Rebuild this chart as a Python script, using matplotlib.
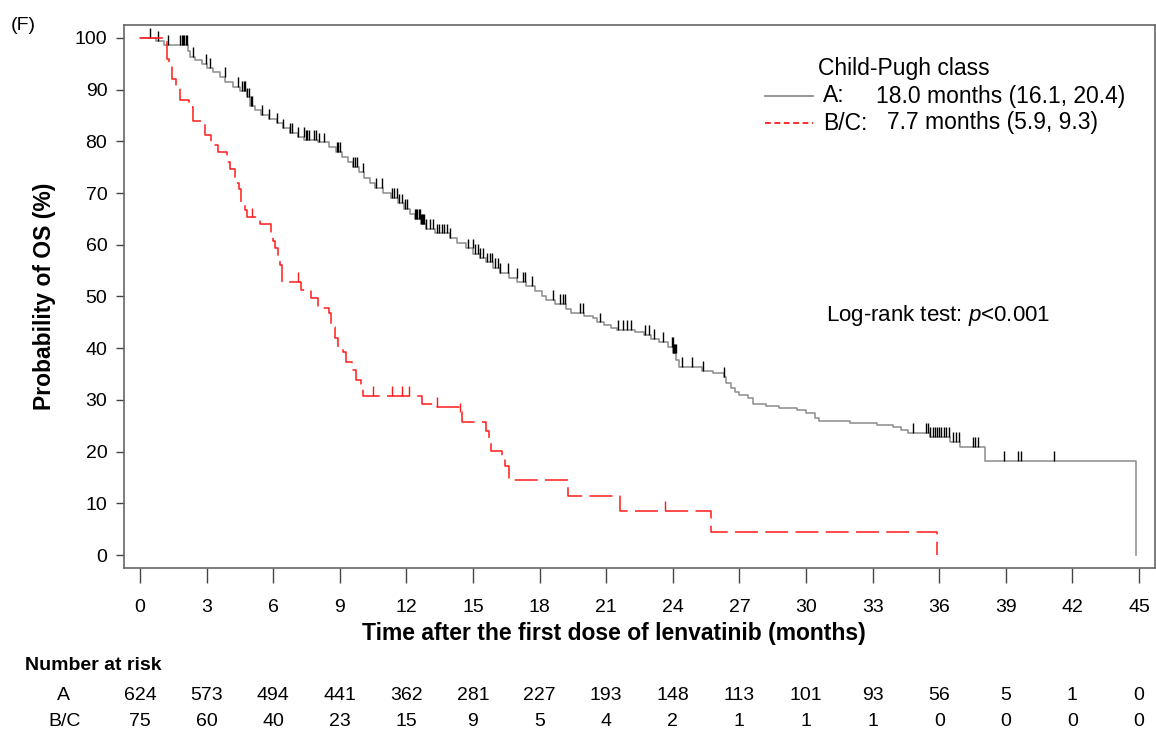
import matplotlib
matplotlib.use("Agg")

import numpy as np
import matplotlib.pyplot as plt
from matplotlib.lines import Line2D
from matplotlib.transforms import blended_transform_factory

plt.rcParams["font.family"] = ["Liberation Sans", "DejaVu Sans"]
plt.rcParams["mathtext.fontset"] = "custom"
plt.rcParams["mathtext.rm"] = "Liberation Sans"
plt.rcParams["mathtext.it"] = "Liberation Sans:italic"

# ============ data ============
# Child-Pugh A: step times (months) and survival (%) after each step
a_time = [0, 0.7, 1.1, 2.15, 2.25, 2.5, 2.8, 3.0, 3.3, 3.6, 3.85, 4.2, 4.5, 4.8, 4.95,
          5.2, 5.45, 5.8, 6.15, 6.45, 6.75, 7.1, 7.4, 8.0, 8.5, 8.85, 9.1, 9.35, 9.6,
          9.85, 10.1, 10.35, 10.6, 10.95, 11.3, 11.6, 11.9, 12.15, 12.4, 12.65, 12.9,
          13.3, 13.95, 14.3, 14.7, 15.0, 15.3, 15.6, 15.9, 16.2, 16.6, 17.0, 17.4, 17.8,
          18.1, 18.3, 18.7, 19.2, 19.4, 20.0, 20.4, 20.6, 20.9, 21.2, 21.5, 22.3, 22.7,
          23.0, 23.4, 23.8, 24.0, 24.15, 24.3, 25.3, 25.8, 26.3, 26.4, 26.6, 26.8, 27.0,
          27.4, 27.6, 28.2, 28.8, 29.6, 30.0, 30.4, 30.6, 32.0, 33.2, 33.9, 34.3, 34.6,
          35.6, 36.5, 36.94, 38.06, 44.87]
a_surv = [100, 99.4, 98.6, 97.4, 96.4, 95.8, 95.0, 94.2, 93.4, 92.4, 91.5, 90.6, 89.8, 88.5, 86.9,
          86.0, 85.1, 84.3, 83.5, 82.5, 81.6, 80.9, 80.2, 79.8, 79.0, 78.0, 77.0, 76.0, 75.0,
          74.0, 72.9, 71.9, 71.0, 70.0, 69.0, 68.0, 67.0, 66.0, 65.0, 64.0, 63.0,
          62.2, 61.3, 60.3, 59.3, 58.3, 57.5, 56.6, 55.6, 54.6, 53.6, 52.8, 52.0, 51.0,
          50.0, 49.3, 48.6, 47.6, 46.8, 46.3, 45.8, 45.0, 44.5, 44.0, 43.5, 43.1, 42.5,
          41.8, 41.2, 40.2, 39.0, 37.8, 36.4, 35.6, 35.2, 34.4, 33.2, 32.4, 31.6, 30.9,
          30.3, 29.3, 28.8, 28.4, 28.1, 27.4, 26.5, 25.9, 25.6, 25.2, 24.7, 24.2, 23.6,
          22.8, 21.9, 20.9, 18.2, 0]
a_cens = [0.45, 0.83, 1.28, 1.8, 1.9, 1.95, 2.0, 2.07, 2.13, 2.4, 2.97, 3.15, 3.83, 4.43,
          4.58, 4.68, 4.75, 4.8, 4.9, 4.98, 5.03, 5.48, 5.83, 6.16, 6.46, 6.76, 6.83, 7.13,
          7.39, 7.46, 7.54, 7.61, 7.84, 7.93, 8.05, 8.29, 8.86, 8.93, 9.0, 9.6, 9.68, 9.76,
          10.06, 10.63, 10.89, 11.35, 11.44, 11.56, 11.68, 11.79, 11.94, 12.01, 12.4, 12.45,
          12.5, 12.55, 12.6, 12.65, 12.7, 12.75, 12.8, 12.9, 13.06, 13.2, 13.36, 13.45,
          13.59, 13.7, 13.81, 13.96, 14.79, 14.98, 15.09, 15.24, 15.32, 15.47, 15.62, 15.77,
          15.84, 15.99, 16.14, 16.22, 16.59, 16.97, 17.27, 17.34, 17.64, 18.6, 18.92, 19.04,
          19.16, 19.82, 19.97, 20.72, 21.55, 21.77, 21.92, 22.1, 22.75, 22.94, 23.15, 23.57,
          23.95, 23.99, 24.03, 24.07, 24.11, 24.14, 24.4, 24.85, 25.37, 26.3, 34.8, 35.4,
          35.5, 35.6, 35.7, 35.8, 35.9, 36.0, 36.1, 36.2, 36.3, 36.45, 36.6, 36.75, 36.9,
          37.5, 37.6, 37.75, 38.9, 39.56, 39.7, 41.17]

# Child-Pugh B/C
b_time = [0, 1.2, 1.3, 1.45, 1.6, 1.8, 2.2, 2.4, 2.95, 3.2, 3.5, 3.9, 4.05, 4.3, 4.45,
          4.55, 4.75, 4.8, 5.4, 5.9, 6.0, 6.1, 6.2, 6.3, 6.4, 7.25, 7.7, 8.0, 8.5, 8.6,
          8.8, 8.9, 9.15, 9.3, 9.55, 9.75, 9.95, 10.05, 12.7, 13.3, 14.35, 14.5, 15.6,
          15.7, 15.8, 16.3, 16.45, 16.6, 19.3, 21.6, 25.7, 35.9]
b_surv = [100, 96.0, 94.7, 92.0, 90.7, 88.0, 86.7, 84.0, 81.3, 79.3, 78.0, 76.0, 74.7, 72.0, 70.7,
          68.0, 66.7, 65.3, 64.0, 62.0, 60.7, 59.3, 57.7, 56.0, 52.8, 51.2, 49.7, 47.8, 46.8, 44.1,
          42.0, 40.0, 39.2, 37.3, 35.8, 33.8, 32.8, 30.8, 29.3, 28.6, 27.6, 25.8, 24.0,
          21.8, 20.2, 18.7, 17.3, 14.5, 11.4, 8.6, 4.4, 0.0]
b_cens = [5.03, 7.13, 10.5, 11.35, 11.8, 12.1, 13.4, 14.4, 23.65]

risk_times = [0, 3, 6, 9, 12, 15, 18, 21, 24, 27, 30, 33, 36, 39, 42, 45]
risk_a = [624, 573, 494, 441, 362, 281, 227, 193, 148, 113, 101, 93, 56, 5, 1, 0]
risk_bc = [75, 60, 40, 23, 15, 9, 5, 4, 2, 1, 1, 1, 0, 0, 0, 0]

# ============ plot ============
W, H = 1156, 734
fig = plt.figure(figsize=(W / 100, H / 100), dpi=100)
ax = fig.add_axes([124 / W, 1 - 568 / H, (1155 - 124) / W, (568 - 25) / H])


def px(x, y):
    return x / W, 1 - y / H


def surv_at(times, surv, t):
    idx = np.searchsorted(times, t, side="right") - 1
    return np.asarray(surv)[idx]


col_a = "#8c8c8c"
col_b = "#ff1a1a"
tick_h = 1.9

ax.step(a_time, a_surv, where="post", color=col_a, lw=1.1)
ya = surv_at(a_time, a_surv, a_cens)
ax.vlines(a_cens, ya, ya + tick_h, color="black", lw=1.0)

ax.step(b_time, b_surv, where="post", color=col_b, lw=1.1, dashes=(15, 4.8))
yb = surv_at(b_time, b_surv, b_cens)
ax.vlines(b_cens, yb, yb + tick_h, color=col_b, lw=1.0)

ax.set_xlim(-0.72, 45.72)
ax.set_ylim(-2.5, 102.5)
ax.set_xticks(risk_times)
ax.set_yticks(np.arange(0, 101, 10))

for s in ax.spines.values():
    s.set_color("#666666")
    s.set_linewidth(1.2)
ax.tick_params(axis="x", length=11, width=1, color="#444444", pad=11, labelsize=14)
ax.tick_params(axis="y", length=6, width=1, color="#444444", pad=6, labelsize=14)

ax.set_xlabel("Time after the first dose of lenvatinib (months)", fontsize=16.5,
              fontweight="bold")
ax.xaxis.set_label_coords(0.475, -0.10)
ax.set_ylabel("Probability of OS (%)", fontsize=16.5, fontweight="bold")
ax.yaxis.set_label_coords(-0.066, 0.5)

ax.text(30.9, 46.4, "Log-rank test: $p$<0.001", fontsize=16, va="center", ha="left")

# legend drawn by hand to sit like the original
fig.text(*px(818, 68), "Child-Pugh class", fontsize=16.5, va="center", ha="left")
fig.add_artist(Line2D([765 / W, 813 / W], [1 - 96 / H] * 2, color=col_a, lw=1.3))
fig.add_artist(Line2D([765 / W, 813 / W], [1 - 123 / H] * 2, color=col_b, lw=1.3,
                      dashes=(3.2, 2.0)))
fig.text(*px(823, 96), "A:", fontsize=16.5, va="center", ha="left")
fig.text(*px(823, 123), "B/C:", fontsize=16.5, va="center", ha="left")
fig.text(*px(876, 96), "18.0 months (16.1, 20.4)", fontsize=16.5, va="center", ha="left")
fig.text(*px(887, 123), "7.7 months (5.9, 9.3)", fontsize=16.5, va="center", ha="left")

fig.text(*px(11, 25), "(F)", fontsize=14, va="center", ha="left")

# number at risk table
tr = blended_transform_factory(ax.transData, fig.transFigure)
fig.text(*px(25, 665), "Number at risk", fontsize=14, fontweight="bold",
         va="center", ha="left")
fig.text(*px(63, 695), "A", fontsize=14, va="center", ha="center")
fig.text(*px(65, 722), "B/C", fontsize=14, va="center", ha="center")
for t, na, nb in zip(risk_times, risk_a, risk_bc):
    ax.text(t, 1 - 695 / H, str(na), transform=tr, fontsize=14, va="center", ha="center")
    ax.text(t, 1 - 722 / H, str(nb), transform=tr, fontsize=14, va="center", ha="center")

fig.savefig("out.png", dpi=100)
